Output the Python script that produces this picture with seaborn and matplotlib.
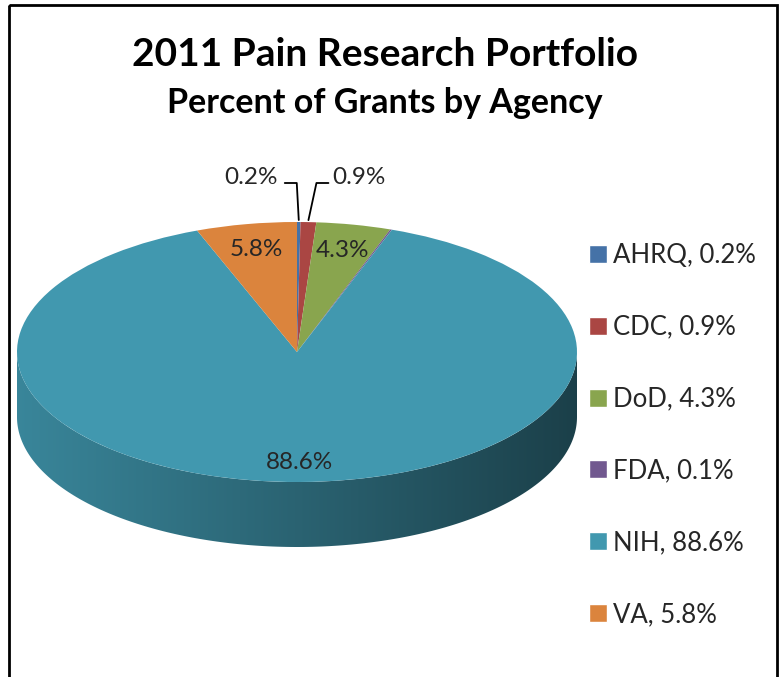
import numpy as np
import matplotlib
matplotlib.use("Agg")
import matplotlib.pyplot as plt
import seaborn as sns
from matplotlib.patches import Rectangle, Polygon
from matplotlib import colors as mcolors

# ---- data ----
agencies = ["AHRQ", "CDC", "DoD", "FDA", "NIH", "VA"]
percents = [0.2, 0.9, 4.3, 0.1, 88.6, 5.8]
slice_colors = ["#4572A7", "#AA4643", "#89A54E", "#71588F", "#4198AF", "#DB843D"]
title = "2011 Pain Research Portfolio"
subtitle = "Percent of Grants by Agency"

sns.set_theme(style="white")
plt.rcParams['font.family'] = ['Lato', 'DejaVu Sans']

W, H = 784, 677
fig = plt.figure(figsize=(W / 100, H / 100), dpi=100)
fig.patch.set_facecolor("white")

# pie geometry in pixels (ellipse centre, semi-axes, side depth)
cx, cy, a, b, depth = 297, 352, 280, 130, 65
d = depth / b
ax = fig.add_axes([(cx - a) / W, (H - (cy + b + depth)) / H, 2 * a / W, (2 * b + depth) / H])

pal = sns.color_palette(slice_colors)
wedges, _ = ax.pie(percents, colors=pal, startangle=90, counterclock=False,
                   radius=1, center=(0, 0), frame=False,
                   wedgeprops=dict(linewidth=0, zorder=3))

# side wall of the 3-D pie (only front half is visible)
for w, col in zip(wedges, pal):
    t1, t2 = w.theta1, w.theta2
    for k in range(-2, 3):
        lo, hi = 180 + 360 * k, 360 + 360 * k
        p1, p2 = max(t1, lo), min(t2, hi)
        if p2 <= p1:
            continue
        phi = np.radians(np.linspace(p1, p2, 200))
        top = np.column_stack([np.cos(phi), np.sin(phi)])
        bot = np.column_stack([np.cos(phi[::-1]), np.sin(phi[::-1]) - d])
        poly = Polygon(np.vstack([top, bot]), closed=True, facecolor="none",
                       edgecolor="none", transform=ax.transData)
        ax.add_patch(poly)
        xs = np.linspace(-1, 1, 300)
        fac = 0.88 - 0.23 * (xs + 1)
        rgb = np.array(mcolors.to_rgb(col))
        img = np.clip(fac[:, None] * rgb[None, :], 0, 1)[None, :, :]
        im = ax.imshow(img, extent=(-1, 1, -1 - d, 0), aspect="auto", zorder=1,
                       interpolation="bilinear")
        im.set_clip_path(poly)

ax.set_aspect("auto")
ax.set_xlim(-1, 1)
ax.set_ylim(-1 - d, 1)
ax.axis("off")

# overlay axes in pixel coordinates
ov = fig.add_axes([0, 0, 1, 1], facecolor="none")
ov.set_xlim(0, W)
ov.set_ylim(H, 0)
ov.axis("off")

def to_px(x, y):
    return cx + a * x, cy - b * y

# frame
ov.add_patch(Rectangle((9, 5), 768, 700, fill=False, edgecolor="black", lw=2, clip_on=False))

# titles
ov.text(385, 55, title, ha="center", va="center", fontsize=28, fontweight="bold", color="black")
ov.text(385, 103, subtitle, ha="center", va="center", fontsize=24.5, fontweight="bold", color="black")

# data labels
lab_fs = 17.5
for i, (w, p) in enumerate(zip(wedges, percents)):
    mid = np.radians((w.theta1 + w.theta2) / 2)
    name = agencies[i]
    txt = f"{p}%"
    if name in ("VA", "DoD"):
        x, y = to_px(0.8 * np.cos(mid), 0.8 * np.sin(mid))
        ov.text(x, y, txt, ha="center", va="center", fontsize=lab_fs)
    elif name == "NIH":
        x, y = to_px(0.85 * np.cos(mid), 0.85 * np.sin(mid))
        ov.text(x, y, txt, ha="center", va="center", fontsize=lab_fs)
    elif name == "AHRQ":
        x, y = to_px(np.cos(mid), np.sin(mid))
        ov.plot([x - 14, x - 2, x], [183, 183, y - 2], color="black", lw=1.3)
        ov.text(x - 21, 178, txt, ha="right", va="center", fontsize=lab_fs)
    elif name == "CDC":
        x, y = to_px(np.cos(mid), np.sin(mid))
        ov.plot([x + 20, x + 8, x], [183, 183, y - 2], color="black", lw=1.3)
        ov.text(x + 24, 178, txt, ha="left", va="center", fontsize=lab_fs)

# legend
handles = [Rectangle((0, 0), 1, 1, facecolor=c) for c in pal]
labels = [f"{n}, {p}%" for n, p in zip(agencies, percents)]
ov.legend(handles, labels, loc="upper left", bbox_to_anchor=(589 / W, 1 - 243 / H),
          bbox_transform=fig.transFigure, frameon=False, fontsize=18.5,
          handlelength=0.7, handleheight=0.7, handletextpad=0.24,
          labelspacing=1.82, borderpad=0, borderaxespad=0)

fig.savefig("out.png", dpi=100, facecolor="white")
